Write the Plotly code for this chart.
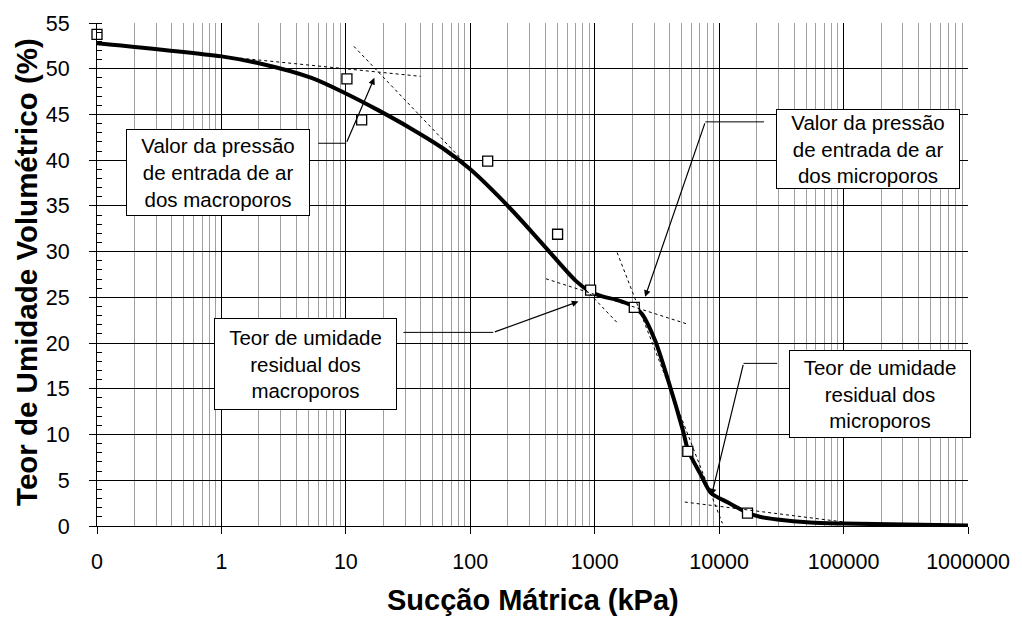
import plotly.graph_objects as go

# Measured points: matric suction (kPa) vs volumetric water content (%)
suction_kpa = [0.1, 10.2, 13.4, 138, 503, 927, 2080, 5600, 16900]
theta_obs = [53.75, 48.9, 44.4, 39.9, 31.9, 25.8, 23.9, 8.15, 1.4]

# Fitted bimodal retention curve
fit_suction = [0.1, 1.0, 2.0, 5.3, 9.8, 18, 33, 61, 100, 207, 383, 705, 900,
               1150, 1480, 1990, 2390, 3050, 3900, 5130, 5620, 7190, 8630,
               11700, 16900, 21600, 29300, 53900, 100000, 1000000]
fit_theta = [52.8, 51.35, 50.6, 49.0, 47.35, 45.5, 43.5, 41.25, 39.0, 34.8,
             30.8, 26.8, 25.7, 25.1, 24.75, 24.1, 23.2, 20.3, 15.9, 10.4, 8.3,
             5.5, 3.6, 2.6, 1.45, 0.98, 0.70, 0.37, 0.26, 0.06]

# Tangent construction lines (start, end)
tangent_suction = [(1.02, 39.8), (11.6, 1549), (406, 5495), (1514, 10620), (5297, 100000)]
tangent_theta = [(51.35, 49.17), (52.45, 22.1), (27.03, 22.1), (29.9, 0.29), (2.62, 0.44)]

# Axis ticks
major_ticks = [0.1, 1, 10, 100, 1000, 10000, 100000, 1000000]
major_labels = ["0", "1", "10", "100", "1000", "10000", "100000", "1000000"]
minor_ticks = [m * 10 ** k for k in range(-1, 6) for m in range(2, 10)]

FONT = "Arial, 'Liberation Sans', sans-serif"

fig = go.Figure()

# fitted curve first, then markers, tangents on top
fig.add_trace(go.Scatter(
    x=fit_suction, y=fit_theta, mode="lines",
    line=dict(color="black", width=4, shape="spline", smoothing=0.8),
    hoverinfo="skip"))

fig.add_trace(go.Scatter(
    x=suction_kpa, y=theta_obs, mode="markers", cliponaxis=False,
    marker=dict(symbol="square", size=10, color="white",
                line=dict(color="black", width=1.3)),
    hoverinfo="skip"))

for xs, ys in zip(tangent_suction, tangent_theta):
    fig.add_trace(go.Scatter(
        x=list(xs), y=list(ys), mode="lines",
        line=dict(color="black", width=1, dash="3px,3px"),
        hoverinfo="skip"))

# Callouts: box text, box centre (log10 x, y), box size, leader (start logx, bend logx, y), arrow tip
callouts = [
    dict(text="Valor da pressão<br>de entrada de ar<br>dos macroporos",
         cx=-0.0287, cy=38.63, w=184, h=87,
         lead=(0.778, 1.003, 41.85), tip=(1.229, 49.0)),
    dict(text="Valor da pressão<br>de entrada de ar<br>dos microporos",
         cx=5.195, cy=41.18, w=184, h=80,
         lead=(4.361, 3.889, 44.19), tip=(3.405, 25.06)),
    dict(text="Teor de umidade<br>residual dos<br>macroporos",
         cx=0.679, cy=17.70, w=183, h=92,
         lead=(1.463, 2.185, 21.17), tip=(2.869, 24.55)),
    dict(text="Teor de umidade<br>residual dos<br>microporos",
         cx=5.295, cy=14.45, w=182, h=88,
         lead=(4.467, 4.196, 17.78), tip=(3.939, 3.35)),
]

for c in callouts:
    x0, x1, yl = c["lead"]
    fig.add_trace(go.Scatter(
        x=[10 ** x0, 10 ** x1], y=[yl, yl], mode="lines",
        line=dict(color="black", width=1), hoverinfo="skip"))
    fig.add_annotation(
        x=c["tip"][0], y=c["tip"][1], ax=x1, ay=yl,
        xref="x", yref="y", axref="x", ayref="y",
        text="", showarrow=True, arrowhead=2, arrowsize=1.1,
        arrowwidth=1.2, arrowcolor="black", standoff=0)
    fig.add_annotation(
        x=c["cx"], y=c["cy"], xref="x", yref="y",
        text=c["text"], showarrow=False,
        width=c["w"] - 2, height=c["h"] - 2,
        bgcolor="white", bordercolor="black", borderwidth=1, borderpad=0,
        font=dict(family=FONT, size=20.5, color="black"), align="center")

# Axis titles
fig.add_annotation(
    x=0.5, y=-0.148, xref="paper", yref="paper", showarrow=False,
    text="<b>Sucção Mátrica (kPa)</b>", yanchor="middle",
    font=dict(family=FONT, size=29, color="black"))
fig.add_annotation(
    x=-0.081, y=0.506, xref="paper", yref="paper", showarrow=False,
    text="<b>Teor de Umidade Volumétrico (%)</b>", textangle=-90,
    xanchor="center", yanchor="middle",
    font=dict(family=FONT, size=29.5, color="black"))

fig.update_layout(
    width=1022, height=619,
    margin=dict(l=97, r=46, t=22, b=93),
    plot_bgcolor="white", paper_bgcolor="white",
    showlegend=False,
    font=dict(family=FONT, size=21.5, color="black"),
    xaxis=dict(
        type="log", range=[-1, 6],
        tickmode="array", tickvals=major_ticks, ticktext=major_labels,
        ticks="outside", ticklen=7, tickcolor="black", tickwidth=1,
        showgrid=True, gridcolor="black", gridwidth=1,
        showline=True, linecolor="black", linewidth=1,
        zeroline=False, ticklabelstandoff=9,
        minor=dict(tickmode="array", tickvals=minor_ticks, showgrid=True,
                   gridcolor="#a0a0a0", gridwidth=1, ticks=""),
    ),
    yaxis=dict(
        range=[0, 55], tickmode="linear", tick0=0, dtick=5,
        ticks="outside", ticklen=7, tickcolor="black", tickwidth=1,
        showgrid=True, gridcolor="black", gridwidth=1,
        showline=True, linecolor="black", linewidth=1,
        zeroline=False, ticklabelstandoff=15,
        minor=dict(dtick=1, ticks="inside", ticklen=5, tickcolor="black",
                   showgrid=False),
    ),
)

fig.write_html("out.html")
